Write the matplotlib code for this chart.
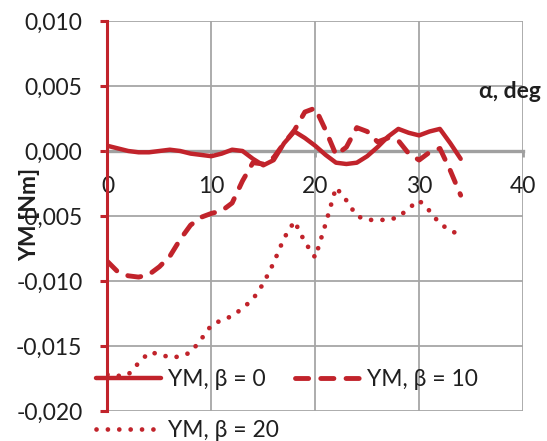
import numpy as np
import matplotlib.pyplot as plt
from matplotlib.ticker import FuncFormatter, MultipleLocator

# angle of attack, deg
alpha = list(range(0, 35))

# yaw moment YM [Nm] for three sideslip angles
ym_b0 = [0.0004, 0.0002, 0.0000, -0.0001, -0.0001, 0.0000, 0.0001, 0.0000, -0.0002, -0.0003,
         -0.0004, -0.0002, 0.0001, 0.0000, -0.0006, -0.0011, -0.0007, 0.0006, 0.0015, 0.0010,
         0.0004, -0.0003, -0.0009, -0.0010, -0.0009, -0.0004, 0.0003, 0.0011, 0.0017, 0.0014,
         0.0012, 0.0015, 0.0017, 0.0006, -0.0006]
ym_b10 = [-0.0085, -0.0093, -0.0096, -0.0097, -0.0095, -0.0089, -0.0081, -0.0068, -0.0057, -0.0051,
          -0.0048, -0.0046, -0.0040, -0.0023, -0.0009, -0.0010, -0.0005, 0.0006, 0.0016, 0.0030,
          0.0033, 0.0016, -0.0003, 0.0003, 0.0018, 0.0015, 0.0007, 0.0010, 0.0008, -0.0002,
          -0.0007, -0.0001, 0.0002, -0.0015, -0.0034]
ym_b20 = [-0.0172, -0.0173, -0.0172, -0.0163, -0.0155, -0.0156, -0.0159, -0.0158, -0.0155, -0.0145,
          -0.0134, -0.0130, -0.0127, -0.0121, -0.0114, -0.0102, -0.0086, -0.0067, -0.0054, -0.0070,
          -0.0082, -0.0056, -0.0028, -0.0038, -0.0050, -0.0053, -0.0053, -0.0053, -0.0051, -0.0044,
          -0.0038, -0.0046, -0.0056, -0.0061, -0.0065]

labels = ['YM, β = 0', 'YM, β = 10', 'YM, β = 20']

red = '#C1232B'
grey = '#A6A6A6'
txt = '#1F1F1F'

plt.rcParams['font.family'] = ['Lato', 'DejaVu Sans']
plt.rcParams['font.size'] = 16.5

fig = plt.figure(figsize=(5.47, 4.41), dpi=100)
ax = fig.add_axes([0.1965, 0.0680, 0.7596, 0.8844])

l10, = ax.plot(alpha, ym_b10, color=red, lw=3.5, linestyle=(0, (2.7, 2.5)),
               dash_capstyle='round', zorder=3)
l20, = ax.plot(alpha, ym_b20, color=red, lw=3.4, linestyle=(0, (0.01, 2.4)),
               dash_capstyle='round', zorder=3)
l0, = ax.plot(alpha, ym_b0, color=red, lw=3.2, solid_capstyle='round', zorder=4)

ax.set_xlim(0, 40)
ax.set_ylim(-0.020, 0.010)
ax.xaxis.set_major_locator(MultipleLocator(10))
ax.yaxis.set_major_locator(MultipleLocator(0.005))

def comma_fmt(v, pos):
    s = f'{v:.3f}'.replace('.', ',')
    return '0,000' if s == '-0,000' else s

ax.yaxis.set_major_formatter(FuncFormatter(comma_fmt))

ax.grid(True, color=grey, lw=1.3, zorder=0)
ax.set_axisbelow(True)

for side in ('top', 'right'):
    ax.spines[side].set_visible(False)
ax.spines['left'].set_color(red)
ax.spines['left'].set_linewidth(2.2)
ax.spines['bottom'].set_position(('data', 0))
ax.spines['bottom'].set_color('#A0A0A0')
ax.spines['bottom'].set_linewidth(2.4)
ax.spines['bottom'].set_zorder(1)

ax.tick_params(axis='y', colors=red, direction='out', length=5, width=2.2, pad=13,
               labelcolor=txt, labelsize=16.5)
ax.tick_params(axis='x', colors='#A0A0A0', direction='out', length=4, width=2, pad=14,
               labelcolor=txt, labelsize=16.5)

fig.text(510 / 547, 1 - 92 / 441, 'α, deg', fontweight='bold', fontsize=16.5,
         color=txt, ha='center', va='center')
fig.text(30 / 547, 1 - 214 / 441, 'YM [Nm]', fontweight='bold', fontsize=16.5,
         color=txt, ha='center', va='center', rotation=90)

leg = ax.legend([l0, l20, l10], [labels[0], labels[2], labels[1]], ncol=2,
                loc='upper left', bbox_to_anchor=(96 / 547, 1 - 369 / 441),
                bbox_transform=fig.transFigure, frameon=False, borderpad=0,
                borderaxespad=0, handlelength=2.85, handletextpad=0.3,
                labelspacing=1.3, columnspacing=0.7, fontsize=16.5)
for t in leg.get_texts():
    t.set_color(txt)

fig.savefig('out.png', dpi=100)
